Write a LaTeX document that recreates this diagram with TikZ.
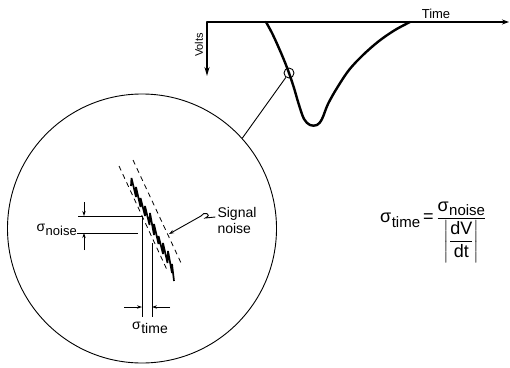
\documentclass[tikz,border=0pt]{standalone}
\usepackage{amsmath}
\usepackage{fontspec}
\setmainfont{Liberation Sans}
\usetikzlibrary{arrows.meta}
\newcommand{\sigsub}[2][13]{σ\kern0.5pt\raisebox{-0.45ex}{\fontsize{#1}{#1}\selectfont #2}}

\begin{document}
\begin{tikzpicture}[x=1pt, y=-1pt,
  axis/.style={line width=1.8pt, line cap=round},
  trace/.style={line width=2.4pt, line join=round, line cap=round},
  rim/.style={draw, circle, line width=0.9pt, inner sep=0pt},
  band/.style={line width=0.8pt, dash pattern=on 5pt off 4pt},
  noisy/.style={line width=1.7pt, line join=miter, miter limit=4},
  guide/.style={line width=0.9pt},
  dim/.style={line width=0.9pt, -{Stealth[length=5pt,width=3.4pt]}},
  txt/.style={font=\fontsize{14}{16}\selectfont, inner sep=0pt, align=left}
]
\useasboundingbox (0,0) rectangle (510,367);

\coordinate (origin) at (207,22);
\coordinate (tend) at (509,22);
\coordinate (vend) at (207,76);
\draw[axis, -{Stealth[length=7pt,width=5pt]}] (origin) -- (tend);
\draw[axis, -{Stealth[length=9pt,width=5pt]}] (origin) -- (vend);
\node[txt, font=\fontsize{13}{15}\selectfont, anchor=south] (time) at (436,19) {Time};
\node[txt, font=\fontsize{11}{13}\selectfont, rotate=90] (volts) at (199,45) {Volts};

\draw[trace] plot[smooth, tension=0.55] coordinates {
  (266,22) (272,33) (278,46) (284,60) (289,73) (294,88) (299,105) (304,119)
  (310,125) (317,125) (322,119) (328,104) (337,88) (349,70) (363,55)
  (379,41) (395,30) (410,22)};

\node[rim, minimum size=10pt] (spot) at (289,73) {};
\node[rim, minimum size=269pt] (lens) at (142,228.5) {};
\draw[guide] (lens.42) -- (spot);

\coordinate (b1) at (119,166);
\coordinate (b2) at (168,272);
\coordinate (b3) at (133,160);
\coordinate (b4) at (182,265);
\draw[band] (b1) -- (b2);
\draw[band] (b3) -- (b4);

\draw[noisy] plot coordinates {
  (131,186) (131.5,178) (136,197) (136,187) (140.5,207) (140.5,198)
  (145,216) (145,206) (149.5,225) (150,213) (154,235) (154,224)
  (158.5,244) (158.5,236) (163,254) (163,243) (167.5,263) (168,251)
  (172,273) (172,264) (174,281)};

\coordinate (hi) at (142,216);
\coordinate (lo) at (138,233);
\coordinate (hiend) at (78,216);
\coordinate (loend) at (77,233);
\coordinate (lbot) at (142,317);
\coordinate (rtop) at (152,243);
\coordinate (rbot) at (152,317);
\draw[guide] (hiend) -- (hi) -- (lbot);
\draw[guide] (loend) -- (lo);
\draw[guide] (rtop) -- (rbot);

\coordinate (na) at (84,202);
\coordinate (nb) at (84,216);
\coordinate (nc) at (84,250);
\coordinate (nd) at (84,233);
\draw[dim] (na) -- (nb);
\draw[dim] (nc) -- (nd);

\coordinate (ta) at (124,307);
\coordinate (tb) at (142,307);
\coordinate (tc) at (170,307);
\coordinate (td) at (152,307);
\draw[dim] (ta) -- (tb);
\draw[dim] (tc) -- (td);

\node[txt, anchor=east] (signoise) at (77,230) {\sigsub{noise}};
\node[txt] (sigtime) at (150,328) {\sigsub[14]{time}};

\node[txt] (signal) at (237,220) {Signal\\noise};
\coordinate (hook) at (201,216);
\coordinate (tip) at (169,234);
\draw[guide] (signal.west) ++(-2,-3) -- ++(-10,1) .. controls ++(8,-4) and ++(2,-5) .. (hook);
\draw[dim] (hook) -- (tip);

\node[txt, font=\fontsize{18}{20}\selectfont, anchor=west] (formula) at (380,232)
  {$\text{\sigsub[15]{time}}\,\text{=}\,\dfrac{\text{\sigsub[15]{noise}}}{\left|\dfrac{\text{dV}}{\text{dt}}\right|}$};
\end{tikzpicture}
\end{document}
